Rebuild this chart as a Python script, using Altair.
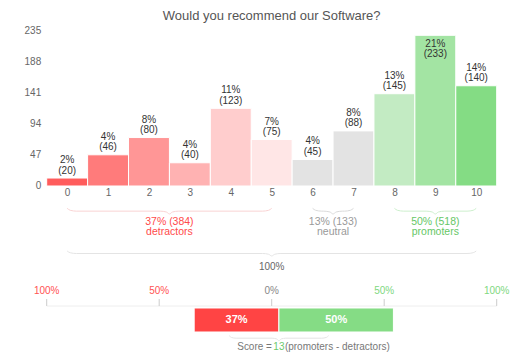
import altair as alt
import pandas as pd

FONT = "Liberation Sans"

# ---------------- data ----------------
title_text = "Would you recommend our Software?"
scores = list(range(11))
bar_heights = [12, 47, 73, 35, 117, 70, 40, 83, 139, 227, 151]
count_labels = [20, 46, 80, 40, 123, 75, 45, 88, 145, 233, 140]
pct_labels = ["2%", "4%", "8%", "4%", "11%", "7%", "4%", "8%", "13%", "21%", "14%"]
y_ticks = [0, 47, 94, 141, 188, 235]

group_names = ["detractors", "neutral", "promoters"]
group_first = [0, 6, 8]
group_last = [5, 7, 10]
group_pcts = ["37%", "13%", "50%"]
group_counts = [384, 133, 518]
total_label = "100%"

nps_names = ["detractors", "promoters"]
nps_values = [37, 50]
nps_score = 13
scale_ticks = [-100, -50, 0, 50, 100]
scale_tick_labels = ["100%", "50%", "0%", "50%", "100%"]

# ---------------- styles ----------------
BAR_COLORS = ["#FF5C5C", "#FF7B7B", "#FF9696", "#FFB2B2", "#FFCDCD", "#FFE6E6",
              "#E3E3E3", "#E3E3E3", "#C3EBC3", "#A3E4A3", "#84DC84"]
GROUP_TEXT_COLORS = ["#FF4A4A", "#999999", "#66C766"]
BRACE_COLORS = ["#F9D3D3", "#DADADA", "#CDEFCD", "#E4E4E4", "#E4E4E4"]
TICK_COLORS = ["#FF5252", "#FF5252", "#888888", "#80D880", "#80D880"]
NPS_COLORS = ["#FF4444", "#85DC85"]

W, H = 450, 156
SHIFT_A = 0   # vertical shift (px) applied to the group annotations
SHIFT_B = 1   # vertical shift (px) applied to the NPS section

# ---------------- tables ----------------
hist = pd.DataFrame({
    "score": scores,
    "x0": [s - 0.5 for s in scores],
    "x1": [s + 0.5 for s in scores],
    "base": [0] * len(scores),
    "height": bar_heights,
    "pct": pct_labels,
    "cnt": [f"({c})" for c in count_labels],
})

groups = pd.DataFrame({
    "name": group_names,
    "mid": [(a + b) / 2 for a, b in zip(group_first, group_last)],
    "line1": [f"{p} ({c})" for p, c in zip(group_pcts, group_counts)],
})


def brace(name, a, b, c):
    m = (a + b) / 2
    pts = [(a, 0), (a + c * 0.5, 0.7), (a + c * 1.5, 1.0), (m - c * 1.5, 1.0),
           (m - c * 0.5, 1.3), (m, 2.0), (m + c * 0.5, 1.3), (m + c * 1.5, 1.0),
           (b - c * 1.5, 1.0), (b - c * 0.5, 0.7), (b, 0)]
    return [{"brace": name, "i": i, "x": x, "h": h} for i, (x, h) in enumerate(pts)]


group_braces = pd.DataFrame(sum([brace(n, a, b, 0.15) for n, a, b in
                                 zip(group_names, group_first, group_last)], []))
total_brace = pd.DataFrame(brace("total", group_first[0], group_last[-1], 0.15))

nps = pd.DataFrame({
    "name": nps_names,
    "start": [-nps_values[0], 0],
    "end": [0, nps_values[1]],
    "label": [f"{v}%" for v in nps_values],
})
nps["mid"] = (nps["start"] + nps["end"]) / 2
score_brace = pd.DataFrame(brace("score", -21.7, 21.7, 2.0))
ticks = pd.DataFrame({"t": scale_ticks, "label": scale_tick_labels})
line_df = pd.DataFrame({"a": [scale_ticks[0]], "b": [scale_ticks[-1]]})
one = pd.DataFrame({"z": [0]})

# ---------------- scales ----------------
xs = alt.Scale(domain=[-0.5, 10.5], nice=False, zero=False)
ys = alt.Scale(domain=[0, 235], nice=False)
xt = alt.Scale(domain=[-100, 100], nice=False)
xn = alt.Scale(domain=[-101.4, 95.1], nice=False, zero=False)

# ---------------- histogram ----------------
bars = alt.Chart(hist).mark_rect(stroke="white", strokeWidth=1).encode(
    x=alt.X("x0:Q", scale=xs, axis=alt.Axis(
        values=scores, format="d", title=None, domain=False, ticks=False, tickSize=0,
        labelPadding=2, grid=False, labelFontSize=10, labelColor="#666666",
        labelFont=FONT, labelFlush=False, labelOverlap=False)),
    x2="x1:Q",
    y=alt.Y("height:Q", scale=ys, axis=alt.Axis(
        values=y_ticks, title=None, domain=False, ticks=False, tickSize=0,
        labelPadding=6, grid=False, labelFontSize=10, labelColor="#666666",
        labelFont=FONT)),
    y2="base:Q",
    color=alt.Color("score:O", scale=alt.Scale(domain=scores, range=BAR_COLORS), legend=None),
)

lbl_base = alt.Chart(hist).encode(
    x=alt.X("score:Q", scale=xs, axis=None),
    y=alt.Y("height:Q", scale=ys, axis=None),
)
txt_kw = dict(font=FONT, fontSize=10, color="#333333", baseline="middle")
out1 = lbl_base.transform_filter("datum.height < 200").mark_text(dy=-18, **txt_kw).encode(text="pct:N")
out2 = lbl_base.transform_filter("datum.height < 200").mark_text(dy=-7.5, **txt_kw).encode(text="cnt:N")
in1 = lbl_base.transform_filter("datum.height >= 200").mark_text(dy=8.7, **txt_kw).encode(text="pct:N")
in2 = lbl_base.transform_filter("datum.height >= 200").mark_text(dy=18.7, **txt_kw).encode(text="cnt:N")

title = alt.Chart(one).mark_text(font=FONT, fontSize=13, color="#555555",
                                 baseline="alphabetic", align="center").encode(
    x=alt.value(W / 2), y=alt.value(-10), text=alt.value(title_text))

# ---------------- group annotations ----------------
A = SHIFT_A
gb = alt.Chart(group_braces).mark_line(interpolate="monotone", strokeWidth=1).encode(
    x=alt.X("x:Q", scale=xs, axis=None),
    y=alt.Y("h:Q", scale=alt.Scale(domain=[0, 2], range=[178.3 - A, 184 - A]), axis=None),
    detail="brace:N", order="i:Q",
    color=alt.Color("brace:N", scale=alt.Scale(domain=group_names, range=BRACE_COLORS[:3]), legend=None),
)
gt_base = alt.Chart(groups).encode(
    x=alt.X("mid:Q", scale=xs, axis=None),
    color=alt.Color("name:N", scale=alt.Scale(domain=group_names, range=GROUP_TEXT_COLORS), legend=None),
)
gt1 = gt_base.mark_text(font=FONT, fontSize=10.5, baseline="middle").encode(
    y=alt.value(192.3 - A), text="line1:N")
gt2 = gt_base.mark_text(font=FONT, fontSize=10.5, baseline="middle").encode(
    y=alt.value(202.3 - A), text="name:N")

tb = alt.Chart(total_brace).mark_line(interpolate="monotone", strokeWidth=1, color=BRACE_COLORS[3]).encode(
    x=alt.X("x:Q", scale=xs, axis=None),
    y=alt.Y("h:Q", scale=alt.Scale(domain=[0, 2], range=[221 - A, 226 - A]), axis=None),
    order="i:Q",
)
tt = alt.Chart(pd.DataFrame({"mid": [(group_first[0] + group_last[-1]) / 2], "t": [total_label]})).mark_text(
    font=FONT, fontSize=10, color="#666666", baseline="middle").encode(
    x=alt.X("mid:Q", scale=xs, axis=None), y=alt.value(236.7 - A), text="t:N")

# ---------------- NPS bar ----------------
B = SHIFT_B
tick_lbl = alt.Chart(ticks).mark_text(font=FONT, fontSize=10, baseline="middle").encode(
    x=alt.X("t:Q", scale=xt, axis=None), y=alt.value(262.3 - B), text="label:N",
    color=alt.Color("t:O", scale=alt.Scale(domain=scale_ticks, range=TICK_COLORS), legend=None),
)
tick_mk = alt.Chart(ticks).mark_rule(color="#CCCCCC", strokeWidth=1).encode(
    x=alt.X("t:Q", scale=xt, axis=None), y=alt.value(270 - B), y2=alt.value(277 - B))
base_line = alt.Chart(line_df).mark_rule(color="#EEEEEE", strokeWidth=1).encode(
    x=alt.X("a:Q", scale=xt, axis=None), x2="b:Q", y=alt.value(277 - B))

nbars = alt.Chart(nps).mark_rect(stroke="white", strokeWidth=1).encode(
    x=alt.X("start:Q", scale=xn, axis=None), x2="end:Q",
    y=alt.value(279 - B), y2=alt.value(303 - B),
    color=alt.Color("name:N", scale=alt.Scale(domain=nps_names, range=NPS_COLORS), legend=None),
)
nlbl = alt.Chart(nps).mark_text(font=FONT, fontSize=11, fontWeight="bold", color="white",
                                baseline="middle").encode(
    x=alt.X("mid:Q", scale=xn, axis=None), y=alt.value(291 - B), text="label:N")

sb = alt.Chart(score_brace).mark_line(interpolate="monotone", strokeWidth=1, color=BRACE_COLORS[4]).encode(
    x=alt.X("x:Q", scale=xn, axis=None),
    y=alt.Y("h:Q", scale=alt.Scale(domain=[0, 2], range=[306.7 - B, 311.7 - B]), axis=None),
    order="i:Q",
)
score_df = pd.DataFrame({"z": [0], "s": [str(nps_score)]})
s_kw = dict(font=FONT, fontSize=10, baseline="middle")
SY = 318.3 - B
s1 = alt.Chart(score_df).mark_text(align="right", dx=-7, color="#777777", **s_kw).encode(
    x=alt.X("z:Q", scale=xn, axis=None), y=alt.value(SY), text=alt.value("Score ="))
s2 = alt.Chart(score_df).mark_text(align="center", color="#6CC96C", **s_kw).encode(
    x=alt.X("z:Q", scale=xn, axis=None), y=alt.value(SY), text="s:N")
s3 = alt.Chart(score_df).mark_text(align="left", dx=6, color="#777777", **s_kw).encode(
    x=alt.X("z:Q", scale=xn, axis=None), y=alt.value(SY), text=alt.value("(promoters - detractors)"))

chart = alt.layer(
    bars, out1, out2, in1, in2, title,
    gb, gt1, gt2, tb, tt,
    base_line, tick_mk, tick_lbl, nbars, nlbl, sb, s1, s2, s3,
).resolve_scale(x="independent", y="independent", color="independent").properties(
    width=W, height=H,
    autosize=alt.AutoSizeParams(type="none"),
    padding={"left": 38.7, "top": 22, "right": 20, "bottom": 166},
).configure_view(stroke=None)

chart.save("out.html", embed_options={"renderer": "svg", "actions": False})
